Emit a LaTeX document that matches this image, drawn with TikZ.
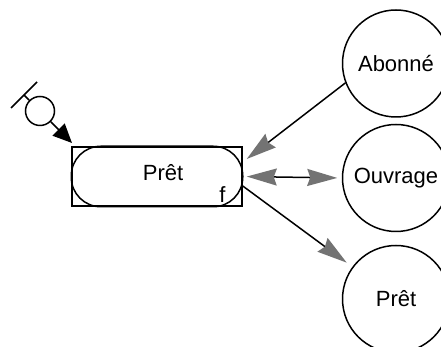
\documentclass[tikz,border=0pt]{standalone}
\usepackage{fontspec}
\setmainfont{Liberation Sans}
\usetikzlibrary{arrows.meta,positioning,calc}

\begin{document}
\begin{tikzpicture}[x=1pt,y=1pt,line width=1.5pt,
    font=\fontsize{22}{26}\selectfont,
    entity/.style={circle,draw,minimum size=107pt,inner sep=0pt},
    flow/.style={-{Stealth[length=30pt,width=17pt,inset=3pt,color=black!55]}},
    flowboth/.style={{Stealth[length=30pt,width=17pt,inset=3pt,color=black!55]}-{Stealth[length=30pt,width=17pt,inset=3pt,color=black!55]}}]
    \useasboundingbox (0,0) rectangle (441,347);

    % Operation box with rounded inner shape
    \node[draw,minimum width=170pt,minimum height=59pt,inner sep=0pt] (pretbox) at (157,170.5) {};
    \draw[rounded corners=29.5pt] (pretbox.south west) rectangle (pretbox.north east);
    \node[anchor=base] (pretlabel) at (163,166) {Prêt};
    \node[anchor=base,inner sep=0pt] (fmark) at (222.5,144) {f};

    % Entities on the right
    \node[entity] (abonne) at (396,283.5) {Abonné};
    \node[entity] (ouvrage) at (396,169) {Ouvrage};
    \node[entity] (pretent) at (396,48) {Prêt};

    % Triggering event
    \node[circle,draw,minimum size=29pt,inner sep=0pt] (evt) at (40,236) {};
    \coordinate (barmid) at (24,252);
    \coordinate (evtin) at (72,204);
    \draw (barmid) -- (evt);
    \draw ($(barmid)+(-13,-13)$) -- ($(barmid)+(13,13)$);
    \draw[-{Triangle[length=19pt,width=17pt]}] (evt) -- (evtin);

    % Flows
    \coordinate (inabo) at ($(pretbox.east)+(4,17.5)$);
    \draw[flow] (abonne.201) -- (inabo);
    \draw[flowboth,shorten <=4pt,shorten >=4.5pt] (pretbox.east) -- (ouvrage.west);
    \draw[flow,shorten >=7pt] ($(pretbox.east)+(0,-9.5)$) -- (pretent);
\end{tikzpicture}
\end{document}
